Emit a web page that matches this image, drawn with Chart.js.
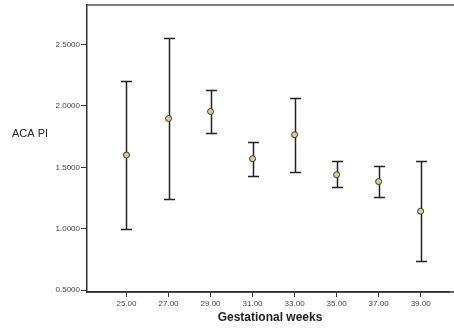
<!DOCTYPE html>
<html>
<head>
<meta charset="utf-8">
<script src="https://cdn.jsdelivr.net/npm/chart.js@4"></script>
<style>
    html, body { margin: 0; padding: 0; background: #fff; }
    #wrap { width: 454px; height: 328px; position: relative; }
</style>
</head>
<body>
<div id="wrap"><canvas id="chart"></canvas></div>
<script>
// データ
const weeks = [25, 27, 29, 31, 33, 35, 37, 39];
const means = [1.600, 1.897, 1.954, 1.570, 1.765, 1.440, 1.384, 1.143];
const upper = [2.203, 2.554, 2.132, 1.705, 2.065, 1.548, 1.513, 1.554];
const lower = [1.000, 1.240, 1.775, 1.432, 1.465, 1.338, 1.260, 0.741];
const yTicks = [0.5, 1.0, 1.5, 2.0, 2.5];
const xTitle = "Gestational weeks";
const yTitle = "ACA PI";

// エラーバーと枠線を描くプラグイン
const errorBars = {
    id: "errorBars",
    beforeDatasetsDraw(chart) {
        const ctx = chart.ctx;
        const xs = chart.scales.x;
        const ys = chart.scales.y;
        const area = chart.chartArea;
        ctx.save();
        // 上と下の枠線 (右端まで)
        ctx.strokeStyle = "#555";
        ctx.lineWidth = 1.5;
        ctx.beginPath();
        ctx.moveTo(area.left, area.top);
        ctx.lineTo(chart.width, area.top);
        ctx.stroke();
        ctx.strokeStyle = "#333";
        ctx.beginPath();
        ctx.moveTo(area.left, area.bottom);
        ctx.lineTo(chart.width, area.bottom);
        ctx.stroke();

        ctx.strokeStyle = "#222";
        ctx.lineWidth = 1.5;
        weeks.forEach((w, i) => {
            const x = Math.round(xs.getPixelForValue(w)) + 0.5;
            const yHi = Math.round(ys.getPixelForValue(upper[i])) + 0.5;
            const yLo = Math.round(ys.getPixelForValue(lower[i])) + 0.5;
            ctx.beginPath();
            ctx.moveTo(x, yHi);
            ctx.lineTo(x, yLo);
            ctx.moveTo(x - 5.5, yHi);
            ctx.lineTo(x + 5.5, yHi);
            ctx.moveTo(x - 5.5, yLo);
            ctx.lineTo(x + 5.5, yLo);
            ctx.stroke();
        });
        ctx.restore();
    },
    afterDraw(chart) {
        const ctx = chart.ctx;
        ctx.save();
        ctx.fillStyle = "#222";
        ctx.textBaseline = "middle";
        ctx.textAlign = "left";
        ctx.font = "11px 'Liberation Sans', Arial, sans-serif";
        ctx.fillText(yTitle, 12, 134);
        ctx.textAlign = "center";
        ctx.font = "bold 12px 'Liberation Sans', Arial, sans-serif";
        ctx.fillText(xTitle, 270, 318);
        ctx.restore();
    }
};

const ctx = document.getElementById("chart").getContext("2d");
new Chart(ctx, {
    type: "scatter",
    data: {
        datasets: [{
            data: weeks.map((w, i) => ({ x: w, y: means[i] })),
            pointRadius: 3,
            pointBackgroundColor: "#d8d08a",
            pointBorderColor: "#333",
            pointBorderWidth: 1,
        }]
    },
    options: {
        responsive: true,
        maintainAspectRatio: false,
        animation: false,
        layout: { padding: { top: 4, right: 0, left: 0, bottom: 0 } },
        plugins: {
            legend: { display: false },
            tooltip: { enabled: false },
        },
        scales: {
            x: {
                type: "linear",
                min: 23.12,
                max: 40.35,
                afterBuildTicks: (scale) => {
                    scale.ticks = weeks.map(v => ({ value: v }));
                },
                afterFit: (scale) => {
                    scale.height = 36;
                    scale.paddingLeft = 0;
                    scale.paddingRight = 0;
                },
                grid: { drawOnChartArea: false, drawTicks: true, tickLength: 5, color: "#333", lineWidth: 1 },
                border: { display: true, color: "#333", width: 1.5 },
                ticks: {
                    color: "#444",
                    font: { family: "'Liberation Sans', Arial, sans-serif", size: 8 },
                    padding: 2,
                    maxRotation: 0,
                    autoSkip: false,
                    callback: (v) => Number(v).toFixed(2),
                },
            },
            y: {
                min: 0.486,
                max: 2.82,
                afterBuildTicks: (scale) => {
                    scale.ticks = yTicks.map(v => ({ value: v }));
                },
                afterFit: (scale) => {
                    scale.width = 87;
                    scale.paddingTop = 0;
                    scale.paddingBottom = 0;
                },
                grid: { drawOnChartArea: false, drawTicks: true, tickLength: 6, color: "#333", lineWidth: 1 },
                border: { display: true, color: "#333", width: 1.5 },
                ticks: {
                    color: "#444",
                    font: { family: "'Liberation Sans', Arial, sans-serif", size: 8 },
                    padding: 1,
                    autoSkip: false,
                    callback: (v) => Number(v).toFixed(4),
                },
            },
        },
    },
    plugins: [errorBars],
});
</script>
</body>
</html>
